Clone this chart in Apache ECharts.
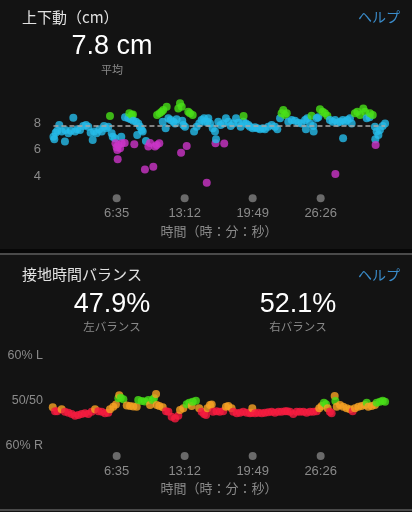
<!DOCTYPE html>
<html>
<head>
<meta charset="utf-8">
<script src="https://cdn.jsdelivr.net/npm/echarts@6.0.0/dist/echarts.min.js"></script>
<style>
html,body{margin:0;padding:0;background:#131313;}
#c{width:412px;height:512px;}
</style>
</head>
<body>
<div id="c"></div>
<script>
// ---- data ----
const tickLabels = ['6:35', '13:12', '19:49', '26:26'];
const axisMaxSec = 1985;

const voAverage = 7.8;
const gctLeftAvg = '47.9%';
const gctRightAvg = '52.1%';

// vertical oscillation (cm): time in seconds / value
const voTime = [26,31,39,48,60,74,93,95,113,127,142,152,165,181,200,216,229,243,255,263,278,294,308,321,333,346,356,366,372,385,388,395,399,401,405,415,422,424,442,444,463,469,477,483,490,492,498,508,515,521,531,541,547,560,566,580,590,609,619,629,631,644,646,658,664,667,681,687,697,710,726,736,745,755,765,771,775,778,784,794,804,813,823,839,847,862,877,891,905,911,921,925,930,940,956,969,972,975,988,1002,1018,1023,1033,1047,1061,1076,1092,1105,1119,1134,1136,1150,1164,1173,1189,1203,1216,1232,1248,1261,1280,1300,1319,1333,1349,1358,1368,1378,1388,1397,1417,1436,1456,1475,1495,1500,1508,1524,1533,1543,1545,1563,1572,1582,1598,1611,1625,1640,1656,1670,1672,1685,1699,1715,1717,1728,1742,1757,1767,1786,1800,1816,1835,1845,1855,1872,1874,1890,1903,1905,1907,1913,1923,1932,1948,1962];
const voValue = [6.97,6.77,7.27,7.42,7.85,7.35,6.6,7.47,7.22,7.42,8.40,7.35,7.52,7.47,7.77,7.85,7.72,7.27,6.72,7.35,7.22,7.52,7.35,7.77,7.6,7.72,8.53,7.22,6.97,6.85,6.47,6.17,5.96,5.26,6.34,6.09,6.97,6.47,6.5,8.43,8.35,8.73,8.28,8.6,8.65,8.17,6.4,8.1,7.09,7.97,7.72,7.47,7.35,4.5,6.64,6.22,6.5,4.7,6.22,6.34,8.6,6.47,8.73,8.85,8.1,8.98,7.6,9.23,8.35,8.23,8.1,7.97,8.28,9.1,9.49,5.76,9.23,8.17,7.85,7.72,6.27,8.85,8.73,8.6,7.35,7.72,7.97,8.23,8.35,8.1,3.5,8.1,8.35,7.97,7.6,7.35,6.47,6.77,8.1,7.85,7.97,6.45,8.35,8.1,7.77,7.97,8.35,8.02,7.72,8.1,8.53,7.97,7.85,7.72,7.6,7.67,7.6,7.52,7.6,7.52,7.72,7.85,7.72,7.52,8.35,8.73,8.98,8.6,8.73,8.1,8.23,8.17,8.02,7.97,8.23,7.52,8.35,7.97,8.55,7.77,7.35,8.35,8.44,9.03,8.85,8.73,8.55,8.23,8.1,8.23,4.15,8.02,8.1,8.23,6.85,8.1,8.23,8.35,7.97,8.73,8.85,8.6,9.1,8.85,8.35,8.44,8.73,8.6,7.72,6.77,6.34,7.35,7.09,7.47,7.77,7.97];

// ground contact time balance (left %): time in seconds / value
const gctTime = [22,35,48,74,93,113,133,152,171,191,210,229,249,269,288,308,327,346,356,375,391,405,410,419,434,454,473,492,512,521,541,560,580,590,605,613,625,629,644,664,683,697,716,736,755,765,784,804,819,833,839,858,877,891,905,917,925,940,950,958,978,997,1017,1033,1047,1066,1076,1096,1115,1134,1154,1173,1183,1187,1203,1222,1242,1261,1280,1300,1319,1339,1358,1378,1391,1407,1426,1446,1465,1485,1504,1524,1543,1563,1578,1592,1605,1617,1627,1640,1650,1668,1672,1680,1699,1718,1738,1757,1773,1786,1806,1825,1845,1855,1864,1884,1903,1913,1932,1948,1962];
const gctLeft = [48.6,47.75,47.7,48.15,47.6,47.4,47.1,46.7,46.9,47.1,47.26,47.1,47.6,48.15,47.75,47.6,47.26,47.4,48.15,48.74,49.2,50.6,51.3,50.7,50.4,49.0,48.9,48.8,48.7,50.2,50.0,49.9,50.2,49.1,50.2,50.6,51.55,49.1,48.9,48.6,47.7,47.6,46.5,46.1,46.7,48.0,48.4,49.3,49.6,48.9,49.85,50.07,48.4,47.6,47.1,46.9,48.4,49.1,49.2,47.6,47.75,47.6,47.7,48.7,48.9,48.4,47.6,47.26,47.4,47.6,47.4,47.26,47.4,48.4,47.26,47.4,47.26,47.4,47.48,47.6,47.4,47.6,47.6,47.7,47.75,47.6,47.1,47.6,47.6,47.6,47.4,47.6,47.6,47.7,48.4,48.9,49.6,49.3,48.4,47.6,47.26,51.1,50.0,48.7,49.1,48.7,48.4,48.15,47.7,48.4,48.7,48.9,49.1,49.6,48.7,48.9,49.1,49.6,49.85,50.07,49.85];

// ---- chart ----
const tickSeconds = tickLabels.map(s => { const p = s.split(':'); return (+p[0]) * 60 + (+p[1]); });
const fmt = s => Math.floor(s / 60) + ':' + String(Math.round(s % 60)).padStart(2, '0');
const voData = voTime.map((t, i) => [t, voValue[i]]);
const gctData = gctTime.map((t, i) => [t, gctLeft[i]]);
const tMin = Math.min(...voTime), tMax = Math.max(...voTime);

const JP = '"Noto Sans CJK JP", "Liberation Sans", sans-serif';
const NUM = '"Liberation Sans", Arial, sans-serif';

function xAxisFor(gridIndex, margin, nameGap) {
  return {
    type: 'value', gridIndex, min: 0, max: axisMaxSec,
    axisLine: { show: false }, axisTick: { show: false }, splitLine: { show: false },
    axisLabel: {
      customValues: tickSeconds,
      margin,
      formatter: v => '{d|}\n{t|' + fmt(v) + '}',
      rich: {
        d: { width: 8, height: 8, borderRadius: 4, backgroundColor: '#6a6a6a', lineHeight: 15 },
        t: { color: '#8a8a8a', fontSize: 13, fontFamily: NUM, lineHeight: 15 }
      }
    },
    name: '時間（時：分：秒）', nameLocation: 'middle', nameGap,
    nameTextStyle: { color: '#8a8a8a', fontSize: 13, fontFamily: JP }
  };
}

const chart = echarts.init(document.getElementById('c'), null, { renderer: 'canvas' });
chart.setOption({
  backgroundColor: '#131313',
  animation: false,
  graphic: [
    { type: 'rect', shape: { x: 0, y: 249, width: 412, height: 4 }, style: { fill: '#070707' } },
    { type: 'rect', shape: { x: 0, y: 253, width: 412, height: 2 }, style: { fill: '#4a4a4a' } },
    { type: 'rect', shape: { x: 0, y: 509, width: 412, height: 2 }, style: { fill: '#4a4a4a' } },
    { type: 'text', x: 22, y: 17, style: { text: '上下動（cm）', fill: '#e2e2e2', font: '15px ' + JP, verticalAlign: 'middle' } },
    { type: 'text', x: 400, y: 17, style: { text: 'ヘルプ', fill: '#3a8ccb', font: '14px ' + JP, align: 'right', verticalAlign: 'middle' } },
    { type: 'text', x: 112, y: 47, style: { text: voAverage.toFixed(1) + ' cm', fill: '#ffffff', font: '27px ' + NUM, align: 'center', verticalAlign: 'middle' } },
    { type: 'text', x: 112, y: 70, style: { text: '平均', fill: '#8a8a8a', font: '11px ' + JP, align: 'center', verticalAlign: 'middle' } },
    { type: 'text', x: 22, y: 274, style: { text: '接地時間バランス', fill: '#e2e2e2', font: '15px ' + JP, verticalAlign: 'middle' } },
    { type: 'text', x: 400, y: 275, style: { text: 'ヘルプ', fill: '#3a8ccb', font: '14px ' + JP, align: 'right', verticalAlign: 'middle' } },
    { type: 'text', x: 112, y: 305, style: { text: gctLeftAvg, fill: '#ffffff', font: '27px ' + NUM, align: 'center', verticalAlign: 'middle' } },
    { type: 'text', x: 298, y: 305, style: { text: gctRightAvg, fill: '#ffffff', font: '27px ' + NUM, align: 'center', verticalAlign: 'middle' } },
    { type: 'text', x: 112, y: 327, style: { text: '左バランス', fill: '#8a8a8a', font: '11.5px ' + JP, align: 'center', verticalAlign: 'middle' } },
    { type: 'text', x: 298, y: 327, style: { text: '右バランス', fill: '#8a8a8a', font: '11.5px ' + JP, align: 'center', verticalAlign: 'middle' } }
  ],
  grid: [
    { left: 49, width: 340, top: 96.5, height: 92.75 },
    { left: 49, width: 340, top: 356, height: 90 }
  ],
  xAxis: [xAxisFor(0, 1.5, 35), xAxisFor(1, 2.5, 36)],
  yAxis: [
    {
      type: 'value', gridIndex: 0, min: 3, max: 10, interval: 1,
      axisLine: { show: false }, axisTick: { show: false }, splitLine: { show: false },
      axisLabel: { margin: 8, color: '#8a8a8a', fontSize: 13, fontFamily: NUM,
        formatter: v => (v >= 4 && v <= 8 && v % 2 === 0) ? String(v) : '' }
    },
    {
      type: 'value', gridIndex: 1, min: 40, max: 60, interval: 10,
      axisLine: { show: false }, axisTick: { show: false }, splitLine: { show: false },
      axisLabel: { margin: 6, color: '#8a8a8a', fontSize: 12.5, fontFamily: NUM,
        formatter: v => v === 60 ? '60% L' : v === 50 ? '50/50' : '60% R' }
    }
  ],
  visualMap: [
    { type: 'piecewise', show: false, seriesIndex: 0, dimension: 1,
      pieces: [
        { lt: 6.55, color: '#cc35c8' },
        { gte: 6.55, lte: 8.5, color: '#26bbea' },
        { gt: 8.5, color: '#48e018' }
      ] },
    { type: 'piecewise', show: false, seriesIndex: 1, dimension: 1,
      pieces: [
        { lt: 47.8, color: '#f81c40' },
        { gte: 47.8, lt: 49.25, color: '#f7a323' },
        { gte: 49.25, lte: 50.75, color: '#48e018' },
        { gt: 50.75, lte: 52.2, color: '#f7a323' },
        { gt: 52.2, color: '#f81c40' }
      ] }
  ],
  series: [
    {
      type: 'scatter', xAxisIndex: 0, yAxisIndex: 0, data: voData, symbolSize: 8,
      markLine: {
        silent: true, symbol: 'none', label: { show: false },
        lineStyle: { color: '#a8a8a8', type: [5, 3], width: 1.5 },
        data: [[{ coord: [tMin, voAverage] }, { coord: [tMax, voAverage] }]]
      }
    },
    { type: 'scatter', xAxisIndex: 1, yAxisIndex: 1, data: gctData, symbolSize: 8 }
  ]
});
</script>
</body>
</html>
